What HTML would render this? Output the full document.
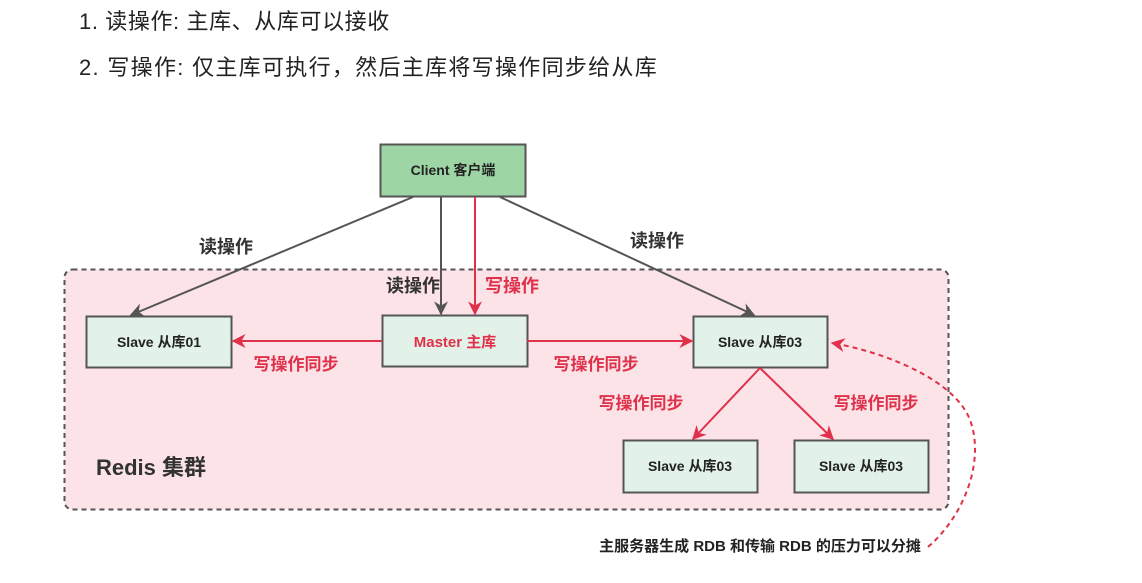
<!DOCTYPE html>
<html><head><meta charset="utf-8"><style>
html,body{margin:0;padding:0;background:#fff;width:1142px;height:583px;overflow:hidden}
svg text{font-family:"Liberation Sans","Noto Sans CJK SC",sans-serif}
</style></head><body>
<svg width="1142" height="583" viewBox="0 0 1142 583" xmlns="http://www.w3.org/2000/svg">
<defs>
<marker id="ag" viewBox="0 0 10 10" refX="9" refY="5" markerWidth="7" markerHeight="7" orient="auto-start-reverse"><path d="M0,0 L10,5 L0,10 L3,5z" fill="#555"/></marker>
<marker id="ar" viewBox="0 0 10 10" refX="9" refY="5" markerWidth="7" markerHeight="7" orient="auto-start-reverse"><path d="M0,0 L10,5 L0,10 L3,5z" fill="#e0314b"/></marker>
</defs>
<text x="79" y="29" font-size="22" letter-spacing="0.6" fill="#222">1. 读操作: 主库、从库可以接收</text>
<text x="79" y="75" font-size="22" letter-spacing="1.3" fill="#222">2. 写操作: 仅主库可执行，然后主库将写操作同步给从库</text>

<rect x="64.5" y="269.5" width="884" height="240" rx="8" fill="#fbe3e8" stroke="#555" stroke-width="2" stroke-dasharray="5,4"/>

<rect x="380.5" y="144.5" width="145" height="52" fill="#9dd5a4" stroke="#555" stroke-width="2"/>
<text x="453" y="175" font-size="14" font-weight="bold" fill="#222" text-anchor="middle">Client 客户端</text>

<g fill="#e3f2e9" stroke="#555" stroke-width="2">
<rect x="86.5" y="316.5" width="145" height="51"/>
<rect x="382.5" y="315.5" width="145" height="51"/>
<rect x="693.5" y="316.5" width="134" height="51"/>
<rect x="623.5" y="440.5" width="134" height="52"/>
<rect x="794.5" y="440.5" width="134" height="52"/>
</g>
<g font-size="14" font-weight="bold" fill="#222" text-anchor="middle">
<text x="159" y="347">Slave 从库01</text>
<text x="760" y="347">Slave 从库03</text>
<text x="690" y="471">Slave 从库03</text>
<text x="861" y="471">Slave 从库03</text>
</g>
<text x="455" y="347" font-size="15" font-weight="bold" fill="#e0314b" text-anchor="middle">Master 主库</text>

<g stroke="#555" stroke-width="2" fill="none" marker-end="url(#ag)">
<line x1="413" y1="197" x2="131" y2="315"/>
<line x1="441" y1="197" x2="441" y2="314"/>
<line x1="500" y1="197" x2="754" y2="315"/>
</g>
<g stroke="#e0314b" stroke-width="2" fill="none" marker-end="url(#ar)">
<line x1="475" y1="197" x2="475" y2="314"/>
<line x1="382" y1="341" x2="233" y2="341"/>
<line x1="527" y1="341" x2="692" y2="341"/>
<line x1="760" y1="368" x2="693" y2="439"/>
<line x1="760" y1="368" x2="833" y2="439"/>
</g>
<path d="M928,547 C965,515 985,460 970,420 C955,380 885,352 832,343" stroke="#e0314b" stroke-width="2" fill="none" stroke-dasharray="5,4" marker-end="url(#ar)"/>

<g font-size="18" font-weight="bold" fill="#333" text-anchor="middle">
<text x="226" y="253">读操作</text>
<text x="413" y="292">读操作</text>
<text x="657" y="247">读操作</text>
</g>
<g font-size="17" font-weight="bold" fill="#e0314b" text-anchor="middle">
<text x="512" y="292" font-size="18">写操作</text>
<text x="296" y="370">写操作同步</text>
<text x="596" y="370">写操作同步</text>
<text x="641" y="409">写操作同步</text>
<text x="876" y="409">写操作同步</text>
</g>
<text x="96" y="475" font-size="22" font-weight="bold" fill="#333">Redis 集群</text>
<text x="760" y="551" font-size="15" font-weight="bold" fill="#222" text-anchor="middle">主服务器生成 RDB 和传输 RDB 的压力可以分摊</text>
</svg>
</body></html>
